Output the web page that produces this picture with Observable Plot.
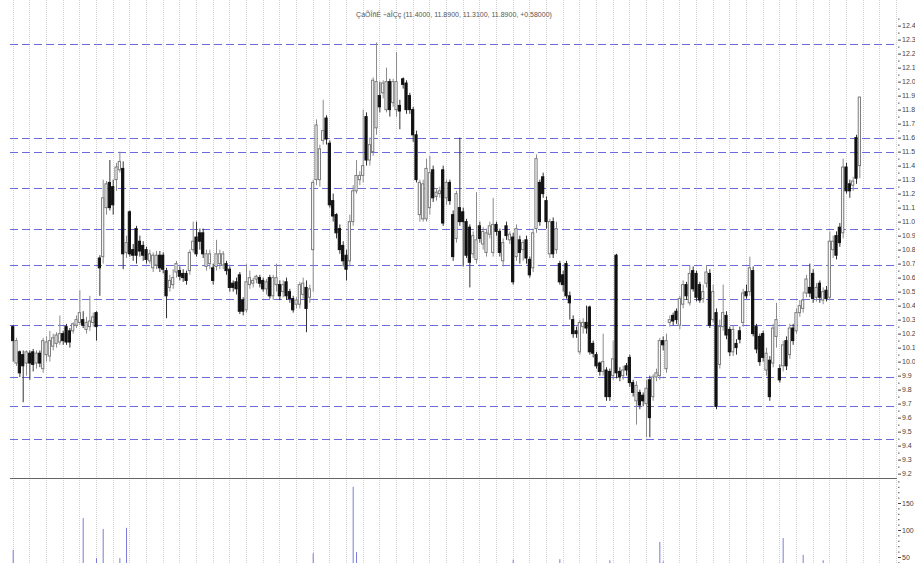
<!DOCTYPE html>
<html><head><meta charset="utf-8">
<script src="https://cdn.jsdelivr.net/npm/d3@7"></script>
<script src="https://cdn.jsdelivr.net/npm/@observablehq/plot@0.6"></script>
<style>
html,body{margin:0;padding:0;overflow:hidden;background:#fff;}
#chart svg{display:block;}
</style></head><body><div id="chart"></div>
<script>
const title = "ÇáÕÎñÉ ÷áÎÇç (11.4000, 11.8900, 11.3100, 11.8900, +0.58000)";

const open = [10.25,9.99,10.07,10.05,9.99,10.06,10.07,9.99,10.06,9.95,
10.05,10.04,10.11,10.13,10.14,10.20,10.25,10.22,10.22,10.26,
10.28,10.30,10.23,10.25,10.28,10.35,10.74,10.75,11.10,11.28,
11.25,11.30,11.37,11.38,10.78,11.07,10.80,10.95,10.86,10.83,
10.80,10.72,10.67,10.69,10.76,10.76,10.65,10.53,10.55,10.64,
10.65,10.63,10.63,10.65,10.80,10.89,10.92,10.92,10.68,10.70,
10.67,10.68,10.70,10.69,10.70,10.66,10.56,10.57,10.62,10.44,
10.37,10.55,10.56,10.59,10.60,10.58,10.52,10.60,10.47,10.55,
10.55,10.50,10.57,10.50,10.45,10.41,10.41,10.48,10.53,10.46,
10.80,11.30,11.30,11.58,11.74,11.56,11.15,11.05,10.95,10.83,
10.76,10.72,11.00,11.22,11.30,11.33,11.75,11.44,11.50,11.67,
11.90,11.92,11.80,12.00,11.85,11.80,11.83,12.02,11.99,11.90,
11.80,11.62,11.05,11.02,11.02,11.10,11.37,11.18,11.20,11.37,
11.17,11.28,11.05,10.88,11.10,11.07,11.00,10.96,10.77,10.73,
10.97,10.84,10.78,10.91,10.78,10.98,10.93,10.72,10.97,10.87,
10.89,10.75,10.87,10.80,10.87,10.73,10.67,10.95,11.28,11.32,
11.15,10.77,11.00,10.80,10.70,10.62,10.70,10.47,10.30,10.22,
10.07,10.25,10.28,10.39,10.13,10.05,9.99,9.93,9.94,9.93,
9.90,10.76,9.93,9.90,9.97,10.03,9.85,9.72,9.78,9.76,
9.70,9.87,9.75,9.89,9.90,10.15,9.95,10.28,10.33,10.36,
10.26,10.41,10.55,10.42,10.65,10.63,10.55,10.45,10.56,10.63,
10.30,10.35,9.98,10.25,10.33,10.23,10.07,10.13,10.22,10.28,
10.50,10.50,10.65,10.25,10.18,10.20,9.94,10.01,9.99,10.18,
9.95,9.97,10.15,10.05,10.24,10.22,10.35,10.38,10.49,10.53,
10.63,10.46,10.56,10.44,10.51,10.46,10.80,10.90,10.96,10.92,
11.39,11.27,11.26,11.60,11.40];

const high = [10.26,10.17,10.08,10.08,10.08,10.08,10.09,10.08,10.08,10.17,
10.18,10.22,10.20,10.21,10.33,10.22,10.27,10.24,10.28,10.33,
10.51,10.36,10.32,10.47,10.35,10.36,10.76,11.30,11.29,11.44,
11.30,11.42,11.50,11.43,10.90,11.08,10.84,10.97,10.90,10.86,
10.82,10.80,10.78,10.79,10.79,10.78,10.67,10.62,10.66,10.72,
10.68,10.66,10.65,10.80,11.00,11.00,10.95,10.95,10.80,10.80,
10.70,10.87,10.80,10.79,10.72,10.68,10.58,10.60,10.64,10.46,
10.70,10.65,10.60,10.62,10.62,10.60,10.59,10.62,10.62,10.70,
10.58,10.58,10.60,10.52,10.47,10.46,10.57,10.60,10.58,10.55,
11.30,11.73,11.55,11.87,11.76,11.58,11.20,11.06,10.98,10.86,
10.80,11.05,11.26,11.44,11.36,11.80,11.78,11.60,12.03,12.28,
12.00,12.01,12.10,12.02,12.02,12.21,11.87,12.03,12.01,11.92,
11.82,11.65,11.30,11.30,11.45,11.47,11.40,11.24,11.25,11.40,
11.30,11.30,11.08,11.22,11.60,11.10,11.02,10.98,10.93,11.21,
11.00,10.96,10.95,11.00,11.17,11.00,10.95,10.88,11.00,10.93,
10.92,10.98,10.90,10.87,10.90,10.75,10.95,11.48,11.30,11.35,
11.18,11.02,11.03,11.00,10.72,10.65,10.72,10.50,10.33,10.25,
10.30,10.31,10.40,10.40,10.15,10.07,10.00,10.20,9.96,9.95,
10.15,10.77,9.96,9.97,9.99,10.05,9.87,9.86,9.80,9.78,
9.87,9.90,9.91,9.95,10.17,10.18,10.20,10.33,10.35,10.38,
10.47,10.58,10.57,10.69,10.68,10.65,10.57,10.55,10.69,10.66,
10.55,10.38,10.30,10.55,10.36,10.25,10.26,10.16,10.25,10.52,
10.55,10.75,10.68,10.27,10.20,10.22,10.10,10.04,10.27,10.42,
9.98,10.15,10.18,10.27,10.27,10.38,10.44,10.50,10.62,10.70,
10.66,10.56,10.58,10.53,10.54,10.93,10.90,10.93,10.99,11.45,
11.42,11.30,11.32,11.62,11.89];

const low = [10.00,9.97,9.89,9.71,9.90,9.87,9.93,9.95,9.96,9.92,
10.00,10.00,10.08,10.10,10.12,10.12,10.12,10.10,10.20,10.24,
10.26,10.24,10.20,10.22,10.25,10.15,10.47,10.70,11.05,11.08,
11.05,11.22,11.35,10.66,10.74,10.75,10.72,10.70,10.75,10.72,
10.70,10.70,10.64,10.66,10.64,10.63,10.31,10.50,10.52,10.60,
10.58,10.57,10.55,10.62,10.78,10.75,10.80,10.74,10.65,10.66,
10.55,10.65,10.66,10.66,10.62,10.50,10.50,10.48,10.34,10.33,
10.35,10.52,10.53,10.56,10.53,10.50,10.48,10.45,10.44,10.50,
10.44,10.46,10.44,10.42,10.35,10.38,10.38,10.45,10.21,10.42,
10.50,11.26,11.25,11.55,11.55,11.10,11.00,10.88,10.77,10.68,
10.58,10.68,10.97,11.20,11.26,11.28,11.40,11.40,11.47,11.62,
11.78,11.88,11.78,11.75,11.82,11.75,11.66,11.95,11.77,11.77,
11.57,11.28,11.00,11.00,11.00,11.05,11.14,11.15,11.17,10.97,
11.12,11.12,10.72,10.85,10.97,10.68,10.74,10.53,10.74,10.70,
10.85,10.80,10.75,10.88,10.75,10.90,10.75,10.68,10.87,10.84,
10.55,10.72,10.70,10.72,10.70,10.60,10.64,10.92,10.97,11.17,
10.95,10.74,10.74,10.77,10.55,10.50,10.45,10.30,10.17,10.17,
10.05,10.20,10.20,10.05,10.03,9.95,9.90,9.90,9.72,9.72,
9.87,9.88,9.86,9.87,9.90,9.82,9.75,9.55,9.66,9.68,
9.46,9.46,9.72,9.86,9.87,10.08,9.92,10.25,10.26,10.27,
10.23,10.38,10.44,10.40,10.50,10.43,10.42,10.42,10.53,10.24,
10.28,9.66,9.95,10.22,10.16,10.04,10.04,10.05,10.13,10.25,
10.45,10.47,10.18,10.06,9.97,10.00,9.90,9.72,9.96,10.10,
9.85,9.93,9.94,10.02,10.12,10.20,10.32,10.35,10.46,10.46,
10.42,10.43,10.42,10.41,10.43,10.44,10.74,10.73,10.82,10.88,
11.20,11.17,11.22,11.27,11.31];

const close = [10.15,10.15,9.92,9.97,10.07,9.99,9.98,10.06,9.99,10.15,
10.14,10.15,10.17,10.19,10.20,10.15,10.14,10.14,10.27,10.30,
10.35,10.26,10.28,10.29,10.32,10.25,10.67,11.17,11.27,11.10,
11.12,11.39,11.43,10.77,10.85,10.77,10.76,10.76,10.79,10.76,
10.73,10.77,10.76,10.76,10.67,10.66,10.47,10.58,10.60,10.70,
10.61,10.60,10.58,10.78,10.86,10.77,10.86,10.77,10.77,10.77,
10.58,10.77,10.77,10.77,10.65,10.53,10.53,10.52,10.36,10.36,
10.57,10.60,10.58,10.61,10.56,10.52,10.57,10.47,10.60,10.60,
10.47,10.55,10.47,10.45,10.37,10.44,10.55,10.56,10.38,10.52,
11.28,11.69,11.52,11.65,11.59,11.12,11.04,10.92,10.80,10.72,
10.66,11.00,11.22,11.33,11.33,11.40,11.44,11.55,12.01,12.00,
11.82,11.99,12.00,11.80,12.00,12.00,11.79,11.98,11.80,11.80,
11.62,11.30,11.28,11.27,11.38,11.35,11.17,11.21,11.22,10.99,
11.28,11.15,10.75,11.20,11.00,11.00,10.76,10.71,10.90,10.87,
10.88,10.93,10.92,10.97,10.98,10.93,10.78,10.85,10.90,10.91,
10.57,10.95,10.78,10.85,10.74,10.62,10.92,11.45,11.00,11.20,
11.00,11.00,10.77,10.95,10.57,10.55,10.47,10.42,10.20,10.20,
10.28,10.28,10.24,10.07,10.06,9.97,9.93,10.00,9.75,9.75,
10.02,9.92,9.89,9.94,9.94,9.85,9.78,9.83,9.69,9.72,
9.81,9.60,9.89,9.92,10.15,10.12,10.15,10.30,10.29,10.30,
10.45,10.55,10.47,10.63,10.52,10.46,10.44,10.50,10.64,10.26,
10.50,9.68,10.25,10.35,10.19,10.07,10.23,10.10,10.16,10.49,
10.47,10.67,10.20,10.09,10.00,10.03,10.06,9.75,10.24,10.30,
9.87,10.12,9.97,10.24,10.15,10.35,10.40,10.44,10.59,10.49,
10.45,10.53,10.46,10.50,10.45,10.86,10.86,10.76,10.85,11.39,
11.22,11.22,11.29,11.31,11.89];

const volume = [63,22,18,30,15,12,20,17,25,14,
19,28,16,13,35,21,24,18,15,26,
33,122,20,31,27,48,38,102,30,25,
22,34,48,36,104,28,19,24,17,15,
12,14,18,11,16,13,29,20,15,17,
12,10,14,21,30,26,18,22,16,13,
15,24,12,11,14,19,10,13,27,18,
23,15,11,10,13,14,12,20,17,22,
14,12,16,13,19,11,20,15,28,16,
57,38,30,35,26,32,24,20,22,18,
25,36,180,59,33,38,30,27,37,39,
28,22,31,25,20,34,18,21,19,23,
26,33,24,20,29,18,22,14,13,27,
16,19,30,21,32,24,20,25,15,23,
14,12,16,13,22,11,18,15,13,12,
45,17,14,12,19,21,27,37,30,22,
20,16,18,14,46,15,25,20,28,13,
22,12,17,31,18,20,16,24,33,44,
19,38,14,12,13,26,18,23,20,12,
28,35,21,15,78,42,24,20,14,16,
22,25,15,27,17,19,13,11,21,30,
18,36,26,22,17,20,16,12,14,24,
13,28,31,19,22,20,15,30,27,21,
25,85,23,20,14,18,16,54,26,21,
24,15,17,44,14,33,22,26,18,38,
25,17,13,34,39];

// horizontal support / resistance levels (dashed)
const levels = [12.27, 11.60, 11.50, 11.24, 10.95, 10.69, 10.45, 10.26, 9.89, 9.68, 9.45];

// price axis tick labels
const priceTicks = [9.2,9.3,9.4,9.5,9.6,9.7,9.8,9.9,10.0,10.1,10.2,10.3,10.4,10.5,10.6,10.7,
  10.8,10.9,11.0,11.1,11.2,11.3,11.4,11.5,11.6,11.7,11.8,11.9,12.0,12.1,12.2,12.3,12.4];
const volTicks = [50, 100, 150];
const volMinor = [10,20,30,40,60,70,80,90,110,120,130,140,160,170,180,190];
const volTop = 196;

const candles = open.map((o, i) => ({
  i, open: o, high: high[i], low: low[i], close: close[i], vol: volume[i], up: close[i] >= o
}));
const gridIdx = d3.range(0, 266, 5);
const xDomain = [-0.81, 265.3];
const font = "'Liberation Sans', Arial, sans-serif";

const price = Plot.plot({
  width: 915, height: 476,
  marginTop: 0, marginBottom: 0, marginLeft: 10, marginRight: 18,
  x: {domain: xDomain, axis: null},
  y: {domain: [9.183, 12.583], axis: null},
  color: {type: "identity"},
  style: {background: "white", fontFamily: font, overflow: "hidden"},
  marks: [
    Plot.ruleX(gridIdx, {stroke: "#d2d2d2", strokeDasharray: "1,1", shapeRendering: "crispEdges"}),
    Plot.ruleY(levels, {stroke: "#6a6ad8", strokeDasharray: "8,4", shapeRendering: "crispEdges"}),
    Plot.ruleX(candles, {x: "i", y1: "low", y2: "high", stroke: d => d.up ? "#8c8c8c" : "#333"}),
    Plot.rect(candles, {
      x1: d => d.i - 0.33, x2: d => d.i + 0.33,
      y1: "open", y2: "close",
      fill: d => d.up ? "white" : "#111",
      stroke: d => d.up ? "#7a7a7a" : "#111", strokeWidth: 1
    }),
    Plot.axisY({anchor: "right", ticks: priceTicks.map(t => t + 0.05), tickSize: 1.5, tickFormat: () => "", label: null, color: "#555"}),
    Plot.axisY({anchor: "right", ticks: priceTicks, tickSize: 3, tickPadding: 1.5, tickFormat: d3.format(".1f"), fontSize: 7, label: null, color: "#444"}),
    Plot.text([title], {frameAnchor: "top", dy: 12, fontSize: 7, fill: "#555"})
  ]
});

const vol = Plot.plot({
  width: 915, height: 110,
  marginTop: 0, marginBottom: 2, marginLeft: 10, marginRight: 18,
  x: {domain: xDomain, axis: null},
  y: {domain: [0, 200], axis: null},
  style: {background: "white", fontFamily: font, overflow: "hidden"},
  marks: [
    Plot.ruleX(gridIdx, {stroke: "#d2d2d2", strokeDasharray: "1,1", shapeRendering: "crispEdges"}),
    Plot.ruleY([volTop], {stroke: "#666", shapeRendering: "crispEdges"}),
    Plot.ruleX(candles, {x: "i", y1: 0, y2: "vol", stroke: "#7b7bd9"}),
    Plot.axisY({anchor: "right", ticks: volMinor, tickSize: 1.5, tickFormat: () => "", label: null, color: "#555"}),
    Plot.axisY({anchor: "right", ticks: volTicks, tickSize: 3, tickPadding: 1.5, fontSize: 7, label: null, color: "#444"})
  ]
});

const el = document.getElementById("chart");
el.appendChild(price);
el.appendChild(vol);
</script></body></html>
